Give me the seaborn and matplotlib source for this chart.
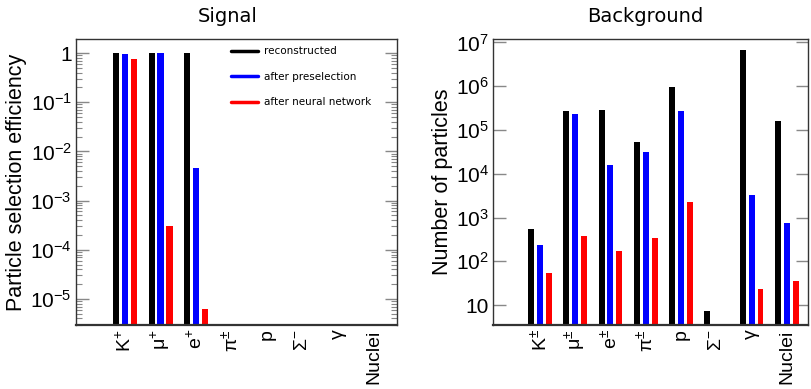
import numpy as np
import pandas as pd
import matplotlib
matplotlib.use("Agg")
import matplotlib.pyplot as plt
from matplotlib.lines import Line2D
from matplotlib.ticker import FixedLocator, FixedFormatter, LogLocator, NullFormatter
import seaborn as sns

# ---------------- data ----------------
signal_labels = ["K$^{+}$", "μ$^{+}$", "e$^{+}$", "π$^{\\pm}$", "p", "Σ$^{-}$", "γ", "Nuclei"]
background_labels = ["K$^{\\pm}$", "μ$^{\\pm}$", "e$^{\\pm}$", "π$^{\\pm}$", "p", "Σ$^{-}$", "γ", "Nuclei"]
series_names = ["reconstructed", "after preselection", "after neural network"]

signal_reco = [1.0, 1.0, 1.0, 0, 0, 0, 0, 0]
signal_presel = [0.95, 1.0, 4.5e-3, 0, 0, 0, 0, 0]
signal_nn = [0.77, 3.05e-4, 6.3e-6, 0, 0, 0, 0, 0]

bkg_reco = [546, 2.68e5, 2.8e5, 5.3e4, 9.5e5, 7.4, 6.9e6, 1.64e5]
bkg_presel = [240, 2.37e5, 1.6e4, 3.2e4, 2.7e5, 0, 3300, 750]
bkg_nn = [55, 370, 168, 340, 2260, 0, 23, 35]

colors = ["#000000", "#0000ff", "#ff0000"]

sns.set_style("ticks")
plt.rcParams["font.family"] = ["Liberation Sans", "DejaVu Sans"]
plt.rcParams["mathtext.fontset"] = "custom"
plt.rcParams["mathtext.rm"] = "Liberation Sans"
plt.rcParams["mathtext.it"] = "Liberation Sans:italic"
plt.rcParams["mathtext.bf"] = "Liberation Sans:bold"
plt.rcParams["text.color"] = "black"
plt.rcParams["axes.labelcolor"] = "black"
plt.rcParams["xtick.color"] = "black"
plt.rcParams["ytick.color"] = "black"


def make_df(labels, a, b, c):
    rows = []
    for name, vals in zip(series_names, [a, b, c]):
        for lab, v in zip(labels, vals):
            rows.append({"cat": lab, "series": name, "value": v if v > 0 else np.nan})
    return pd.DataFrame(rows)


fig = plt.figure(figsize=(8.12, 3.89), dpi=100)
W, H = 812, 389
axL = fig.add_axes([76 / W, (H - 325) / H, 321 / W, 286 / H])
axR = fig.add_axes([493 / W, (H - 325) / H, 315 / W, 286 / H])

dfS = make_df(signal_labels, signal_reco, signal_presel, signal_nn)
dfB = make_df(background_labels, bkg_reco, bkg_presel, bkg_nn)

for ax, df, order in [(axL, dfS, signal_labels), (axR, dfB, background_labels)]:
    ax.set_yscale("log")
    sns.barplot(data=df, x="cat", y="value", hue="series", order=order,
                hue_order=series_names, palette=colors, saturation=1,
                width=0.76, gap=0.33,
                linewidth=0, edgecolor="none", errorbar=None, legend=False, ax=ax)
    ax.set_xlabel("")
    for s in ax.spines.values():
        s.set_color("#333333")
        s.set_linewidth(1.0)
        s.set_visible(True)
    ax.spines["bottom"].set_linewidth(1.6)
    ax.tick_params(axis="x", length=0, labelsize=14, rotation=90, pad=3,
                   labelcolor="black")
    ax.tick_params(axis="y", which="both", direction="in", left=True, right=True,
                   color="#888888", labelsize=15, pad=3, labelcolor="black")
    ax.tick_params(axis="y", which="major", length=9, width=1)
    ax.tick_params(axis="y", which="minor", length=4.5, width=0.8)
    ax.yaxis.set_minor_locator(LogLocator(base=10, subs=np.arange(2, 10)))
    ax.yaxis.set_minor_formatter(NullFormatter())

# Left axis
axL.set_ylim(2.95e-6, 1.93)
axL.set_xlim(-1.38, 7.66)
axL.yaxis.set_major_locator(FixedLocator([1e-5, 1e-4, 1e-3, 1e-2, 1e-1, 1]))
axL.yaxis.set_major_formatter(FixedFormatter(["10$^{-5}$", "10$^{-4}$", "10$^{-3}$",
                                              "10$^{-2}$", "10$^{-1}$", "1"]))
axL.set_ylabel("Particle selection efficiency", fontsize=15.5, labelpad=2)

# Right axis
axR.set_ylim(3.5, 1.2e7)
axR.set_xlim(-1.33, 7.6)
axR.yaxis.set_major_locator(FixedLocator([10, 1e2, 1e3, 1e4, 1e5, 1e6, 1e7]))
axR.yaxis.set_major_formatter(FixedFormatter(["10", "10$^{2}$", "10$^{3}$", "10$^{4}$",
                                              "10$^{5}$", "10$^{6}$", "10$^{7}$"]))
axR.set_ylabel("Number of particles", fontsize=15.5, labelpad=2)

# Legend
handles = [Line2D([0], [0], color=c, lw=2.5) for c in colors]
axL.legend(handles, series_names, loc="upper left", bbox_to_anchor=(0.483, 0.975),
           frameon=False, handlelength=2.6, handletextpad=0.6,
           labelspacing=1.5, borderpad=0, borderaxespad=0,
           prop={"family": "DejaVu Sans", "size": 7.5})

fig.text(228 / W, 1 - 17 / H, "Signal", ha="center", va="center",
         fontsize=14, family="DejaVu Sans", color="black")
fig.text(645 / W, 1 - 17 / H, "Background", ha="center", va="center",
         fontsize=14, family="DejaVu Sans", color="black")

fig.savefig("out.png", dpi=100)
